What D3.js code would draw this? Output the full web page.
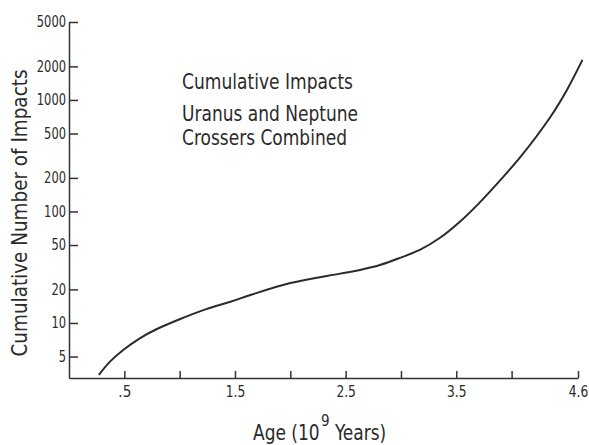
<!DOCTYPE html>
<html>
<head>
<meta charset="utf-8">
<script src="https://cdn.jsdelivr.net/npm/d3@7"></script>
<style>
  body { margin: 0; background: #fff; }
  text { font-family: "DejaVu Sans Condensed", "Liberation Sans", sans-serif; fill: #2b2b2b; }
</style>
</head>
<body>
<div id="chart"></div>
<script>
// curve (age in 10^9 years, cumulative impacts)
const age =     [0.27, 0.37, 0.49, 0.64, 0.79, 1.00, 1.24, 1.46, 1.64, 2.00, 2.45, 2.63, 2.81, 2.99, 3.17, 3.35, 3.53, 3.70, 3.90, 4.08, 4.35, 4.50, 4.64];
const impacts = [3.42, 4.50, 5.73, 7.29, 8.78, 10.8, 13.3, 15.5, 17.8, 22.8, 27.7, 29.9, 33.1, 38.3, 45.2, 57.8, 80.5, 117,  192,  308,  703,  1230, 2285];

const ageTicks = [0.5, 1, 1.5, 2, 2.5, 3, 3.5, 4, 4.6];
const ageTickLabels = [".5", "", "1.5", "", "2.5", "", "3.5", "", "4.6"];
const impactTicks = [5, 10, 20, 50, 100, 200, 500, 1000, 2000, 5000];
const noteLines = ["Cumulative Impacts", "Uranus and Neptune", "Crossers Combined"];

const w = 589;
const h = 445;

const svg = d3.select("#chart")
  .append("svg")
  .attr("width", w)
  .attr("height", h);

const xScale = d3.scaleLinear()
  .domain([0, 4.6])
  .range([69, 578]);

const yScale = d3.scaleLog()
  .domain([3.21, 5000])
  .range([378, 22]);

const xAxis = d3.axisBottom(xScale)
  .tickValues(ageTicks)
  .tickFormat((d, i) => ageTickLabels[i])
  .tickSizeInner(-7)
  .tickSizeOuter(0)
  .tickPadding(8);

const yAxis = d3.axisLeft(yScale)
  .tickValues(impactTicks)
  .tickFormat(d => d)
  .tickSizeInner(-9)
  .tickSizeOuter(0)
  .tickPadding(3);

const gx = svg.append("g")
  .attr("transform", "translate(0,378)")
  .call(xAxis);
const gy = svg.append("g")
  .attr("transform", "translate(69,0)")
  .call(yAxis);

[gx, gy].forEach(g => {
  g.selectAll("path, line").attr("stroke", "#333").attr("stroke-width", 1.5);
  g.selectAll("text").style("font-size", "15px").attr("fill", "#2b2b2b");
});
gy.selectAll("text")
  .attr("textLength", d => String(d).length * 7.3)
  .attr("lengthAdjust", "spacingAndGlyphs");
gx.selectAll("text")
  .attr("textLength", (d, i) => ageTickLabels[i].length * 6.5)
  .attr("lengthAdjust", "spacingAndGlyphs");

const line = d3.line()
  .x((d, i) => xScale(age[i]))
  .y(d => yScale(d))
  .curve(d3.curveCatmullRom.alpha(0.5));

svg.append("path")
  .datum(impacts)
  .attr("d", line)
  .attr("fill", "none")
  .attr("stroke", "#2a2a2a")
  .attr("stroke-width", 2);

// note in the plot
svg.append("g")
  .selectAll("text")
  .data(noteLines)
  .enter()
  .append("text")
  .attr("x", 182)
  .attr("y", (d, i) => [89, 121, 145][i])
  .attr("textLength", (d, i) => [171, 176, 165][i])
  .attr("lengthAdjust", "spacingAndGlyphs")
  .style("font-size", "22px")
  .text(d => d);

// axis titles (x title in three pieces, squeezed a bit like the lettering)
svg.append("text")
  .attr("transform", "translate(253,440) scale(0.86,1)")
  .style("font-size", "22px")
  .text("Age (10");
svg.append("text")
  .attr("x", 321)
  .attr("y", 426)
  .style("font-size", "15px")
  .text("9");
svg.append("text")
  .attr("transform", "translate(335,440) scale(0.86,1)")
  .style("font-size", "22px")
  .text("Years)");

svg.append("text")
  .attr("transform", "translate(27,213) rotate(-90)")
  .attr("text-anchor", "middle")
  .attr("textLength", 287)
  .attr("lengthAdjust", "spacingAndGlyphs")
  .style("font-size", "22px")
  .text("Cumulative Number of Impacts");
</script>
</body>
</html>
